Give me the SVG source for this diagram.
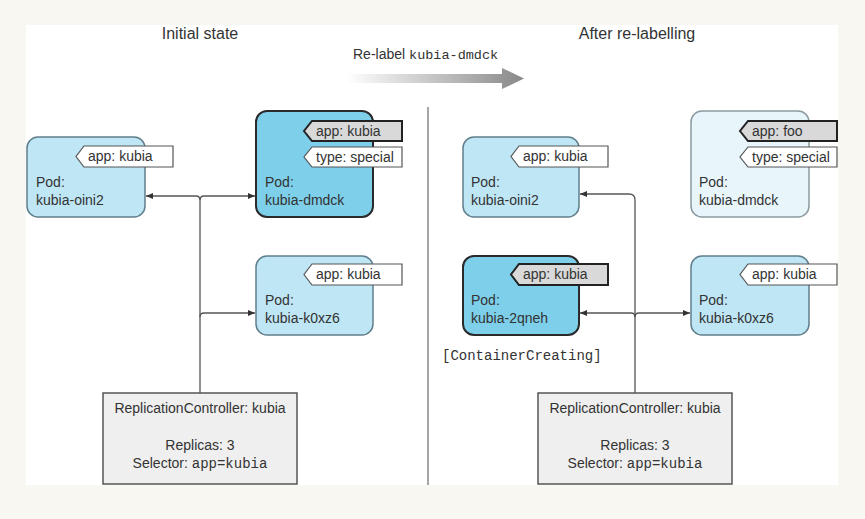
<svg xmlns="http://www.w3.org/2000/svg" width="865" height="519" viewBox="0 0 865 519">
<defs>
<style>
text{font-family:"Liberation Sans",Arial,sans-serif;fill:#333;font-size:14px}
.mono{font-family:"Liberation Mono","Courier New",monospace}
.title{font-size:16px}
.pod{fill:#bfe6f5;stroke:#607f8c;stroke-width:1.5}
.podsel{fill:#7dcfea;stroke:#2a2a2a;stroke-width:2}
.podfade{fill:#e8f6fc;stroke:#8a9aa0;stroke-width:1.5}
.tag{fill:#fff;stroke:#555;stroke-width:1.2}
.tagsel{fill:#d9d9d9;stroke:#222;stroke-width:2}
.rc{fill:#efefef;stroke:#555;stroke-width:1.5}
.conn{fill:none;stroke:#555;stroke-width:1.3}
</style>
<marker id="ah" markerUnits="userSpaceOnUse" markerWidth="8" markerHeight="6" refX="7" refY="3" orient="auto">
<path d="M0,0 L7,3 L0,6 z" fill="#333"/>
</marker>
<linearGradient id="grad" x1="0" y1="0" x2="1" y2="0">
<stop offset="0" stop-color="#ffffff"/>
<stop offset="1" stop-color="#888888"/>
</linearGradient>
</defs>
<rect x="0" y="0" width="865" height="519" fill="#f9f7f2"/>
<rect x="26" y="25" width="812" height="460" fill="#ffffff"/>

<text class="title" x="200" y="39" text-anchor="middle">Initial state</text>
<text class="title" x="637" y="39" text-anchor="middle">After re-labelling</text>

<g id="relabel">
<text x="353" y="59">Re-label <tspan class="mono" font-size="13.5">kubia-dmdck</tspan></text>
<path d="M347,74 H502 V68 L524,78.5 L502,89 V83 H347 z" fill="url(#grad)"/>
</g>

<line x1="428" y1="107" x2="428" y2="485" stroke="#888" stroke-width="1.5"/>

<g id="connectors">
<path class="conn" d="M200,393 V200 Q200,196 196,196 H146" marker-end="url(#ah)"/>
<path class="conn" d="M200,200 Q200,196 204,196 H255" marker-end="url(#ah)"/>
<path class="conn" d="M200,317 Q200,313 204,313 H255" marker-end="url(#ah)"/>
<path class="conn" d="M635,393 V200 Q635,194 629,194 H580" marker-end="url(#ah)"/>
<path class="conn" d="M635,317 Q635,313 631,313 H580" marker-end="url(#ah)"/>
<path class="conn" d="M635,317 Q635,313 639,313 H690" marker-end="url(#ah)"/>
</g>

<g id="pod-left-oini2">
<rect class="pod" x="27" y="137" width="118" height="80" rx="11"/>
<path class="tag" d="M84,146 H173 V167 H84 L76,156.5 z"/>
<text x="88" y="161">app: kubia</text>
<text x="36" y="187">Pod:</text>
<text x="36" y="205">kubia-oini2</text>
</g>

<g id="pod-left-dmdck">
<rect class="podsel" x="256" y="111" width="117" height="106" rx="11"/>
<path class="tagsel" d="M312,121 H402 V141 H312 L304,131 z"/>
<text x="316" y="136">app: kubia</text>
<path class="tag" d="M312,147 H402 V167 H312 L304,157 z"/>
<text x="316" y="162">type: special</text>
<text x="265" y="187">Pod:</text>
<text x="265" y="205">kubia-dmdck</text>
</g>

<g id="pod-left-k0xz6">
<rect class="pod" x="256" y="256" width="117" height="79" rx="11"/>
<path class="tag" d="M312,264 H402 V285 H312 L304,274.5 z"/>
<text x="316" y="279">app: kubia</text>
<text x="265" y="305">Pod:</text>
<text x="265" y="323">kubia-k0xz6</text>
</g>

<g id="rc-left">
<rect class="rc" x="103" y="393" width="194" height="91"/>
<text x="200" y="413" text-anchor="middle">ReplicationController: kubia</text>
<text x="200" y="450" text-anchor="middle">Replicas: 3</text>
<text x="200" y="468" text-anchor="middle">Selector: <tspan class="mono">app=kubia</tspan></text>
</g>

<g id="pod-right-oini2">
<rect class="pod" x="463" y="137" width="116" height="80" rx="11"/>
<path class="tag" d="M519,146 H608 V167 H519 L511,156.5 z"/>
<text x="523" y="161">app: kubia</text>
<text x="471" y="187">Pod:</text>
<text x="471" y="205">kubia-oini2</text>
</g>

<g id="pod-right-dmdck">
<rect class="podfade" x="691" y="111" width="118" height="106" rx="11"/>
<path class="tagsel" d="M748,121 H837 V141 H748 L740,131 z"/>
<text x="752" y="136">app: foo</text>
<path class="tag" d="M748,147 H837 V167 H748 L740,157 z"/>
<text x="752" y="162">type: special</text>
<text x="699" y="187">Pod:</text>
<text x="699" y="205">kubia-dmdck</text>
</g>

<g id="pod-right-2qneh">
<rect class="podsel" x="463" y="256" width="116" height="79" rx="11"/>
<path class="tagsel" d="M519,264 H608 V285 H519 L511,274.5 z"/>
<text x="523" y="279">app: kubia</text>
<text x="471" y="305">Pod:</text>
<text x="471" y="323">kubia-2qneh</text>
<text class="mono" x="442" y="360" font-size="13.5">[ContainerCreating]</text>
</g>

<g id="pod-right-k0xz6">
<rect class="pod" x="691" y="256" width="118" height="79" rx="11"/>
<path class="tag" d="M748,264 H837 V285 H748 L740,274.5 z"/>
<text x="752" y="279">app: kubia</text>
<text x="699" y="305">Pod:</text>
<text x="699" y="323">kubia-k0xz6</text>
</g>

<g id="rc-right">
<rect class="rc" x="538" y="393" width="194" height="91"/>
<text x="635" y="413" text-anchor="middle">ReplicationController: kubia</text>
<text x="635" y="450" text-anchor="middle">Replicas: 3</text>
<text x="635" y="468" text-anchor="middle">Selector: <tspan class="mono">app=kubia</tspan></text>
</g>
</svg>
